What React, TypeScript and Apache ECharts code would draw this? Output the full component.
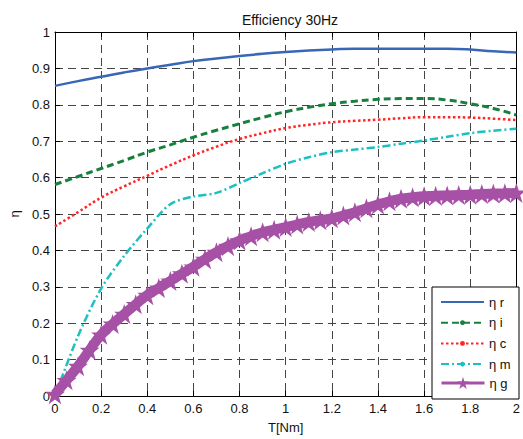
import React, { useEffect, useRef } from "react";
import * as echarts from "echarts";

// Torque values (x) for the four thin curves
const T = [0, 0.1, 0.2, 0.3, 0.4, 0.5, 0.6, 0.7, 0.8, 0.9, 1.0, 1.1, 1.2, 1.3, 1.4, 1.5, 1.6, 1.7, 1.8, 1.9, 2.0];
const etaR = [0.852, 0.865, 0.877, 0.889, 0.9, 0.91, 0.92, 0.927, 0.934, 0.94, 0.945, 0.949, 0.952, 0.954, 0.954, 0.954, 0.954, 0.954, 0.952, 0.947, 0.944];
const etaI = [0.581, 0.603, 0.625, 0.647, 0.67, 0.69, 0.711, 0.73, 0.748, 0.765, 0.781, 0.793, 0.803, 0.81, 0.815, 0.817, 0.817, 0.813, 0.803, 0.79, 0.772];
const etaC = [0.466, 0.505, 0.545, 0.576, 0.605, 0.634, 0.661, 0.685, 0.706, 0.722, 0.736, 0.745, 0.752, 0.756, 0.759, 0.763, 0.766, 0.766, 0.765, 0.762, 0.758];
const etaM = [0, 0.165, 0.295, 0.385, 0.46, 0.527, 0.548, 0.558, 0.585, 0.612, 0.638, 0.656, 0.67, 0.677, 0.684, 0.693, 0.702, 0.712, 0.722, 0.729, 0.734];

// Torque values (x) for the dense star curve
const Tg = [0, 0.05, 0.1, 0.15, 0.2, 0.25, 0.3, 0.35, 0.4, 0.45, 0.5, 0.55, 0.6, 0.65, 0.7, 0.75, 0.8, 0.85, 0.9, 0.95, 1.0, 1.05, 1.1, 1.15, 1.2, 1.25, 1.3, 1.35, 1.4, 1.45, 1.5, 1.55, 1.6, 1.65, 1.7, 1.75, 1.8, 1.85, 1.9, 1.95, 2.0];
const etaG = [0.005, 0.043, 0.082, 0.126, 0.168, 0.198, 0.225, 0.252, 0.277, 0.297, 0.316, 0.336, 0.355, 0.376, 0.395, 0.412, 0.427, 0.439, 0.45, 0.457, 0.464, 0.471, 0.478, 0.483, 0.488, 0.496, 0.505, 0.516, 0.526, 0.535, 0.542, 0.546, 0.549, 0.55, 0.551, 0.552, 0.553, 0.555, 0.556, 0.557, 0.558];

const seriesNames = ["η r", "η i", "η c", "η m", "η g"];
const TITLE = "Efficiency 30Hz";
const X_NAME = "T[Nm]";
const Y_NAME = "η";

const FONT = "Liberation Sans, Arial, sans-serif";
const STAR = "path://M50,0 L61.8,35.5 L99,35.5 L68.9,57.4 L80.4,93 L50,71 L19.6,93 L31.1,57.4 L1,35.5 L38.2,35.5 Z";

const pairs = (xs: number[], ys: number[]) => xs.map((x, i) => [x, ys[i]]);

export default function App() {
  const ref = useRef<HTMLDivElement>(null);
  useEffect(() => {
    if (!ref.current) return;
    const chart = echarts.init(ref.current, null, { renderer: "svg" });
    const gridLine = { show: true, lineStyle: { color: "#444", type: [8, 5] as any, width: 1 } };
    const axisLine = { show: true, onZero: false, lineStyle: { color: "#000", width: 1 } };
    const tick = { show: true, inside: true, length: 5, lineStyle: { color: "#000" } };
    const legendText = { fontSize: 13, lineHeight: 14, color: "#111", fontFamily: FONT };
    chart.setOption({
      animation: false,
      backgroundColor: "#fff",
      textStyle: { fontFamily: FONT },
      title: {
        text: TITLE,
        left: 285,
        top: 8,
        textAlign: "center",
        textStyle: { fontSize: 14, fontWeight: "normal", color: "#111", fontFamily: FONT },
      },
      grid: { left: 52, right: 4, top: 32, bottom: 39, containLabel: false },
      xAxis: [
        {
          type: "value",
          min: 0,
          max: 2,
          interval: 0.2,
          position: "bottom",
          name: X_NAME,
          nameLocation: "middle",
          nameGap: 25,
          nameTextStyle: { fontSize: 13, color: "#111", fontFamily: FONT },
          axisLine,
          axisTick: tick,
          axisLabel: { fontSize: 13, color: "#111", margin: 6, fontFamily: FONT },
          splitLine: gridLine,
        },
        {
          type: "value",
          min: 0,
          max: 2,
          interval: 0.2,
          position: "top",
          axisLine,
          axisTick: tick,
          axisLabel: { show: false },
          splitLine: { show: false },
        },
      ],
      yAxis: [
        {
          type: "value",
          min: 0,
          max: 1,
          interval: 0.1,
          position: "left",
          name: Y_NAME,
          nameLocation: "middle",
          nameGap: 33,
          nameTextStyle: { fontSize: 13, color: "#111", fontFamily: FONT },
          axisLine,
          axisTick: tick,
          axisLabel: { fontSize: 13, color: "#111", margin: 5, fontFamily: FONT },
          splitLine: gridLine,
        },
        {
          type: "value",
          min: 0,
          max: 1,
          interval: 0.1,
          position: "right",
          axisLine,
          axisTick: tick,
          axisLabel: { show: false },
          splitLine: { show: false },
        },
      ],
      legend: [
        {
          orient: "vertical",
          left: 440,
          top: 295,
          itemWidth: 43,
          itemHeight: 6,
          itemGap: 6.7,
          padding: 0,
          selectedMode: false,
          textStyle: legendText,
          data: [
            { name: seriesNames[0], itemStyle: { opacity: 0 } },
            { name: seriesNames[1] },
            { name: seriesNames[2] },
            { name: seriesNames[3] },
          ],
          z: 6,
        },
        {
          orient: "vertical",
          left: 440,
          top: 376,
          itemWidth: 43,
          itemHeight: 15,
          padding: 0,
          selectedMode: false,
          textStyle: legendText,
          lineStyle: { width: 3 },
          data: [{ name: seriesNames[4] }],
          z: 6,
        },
      ],
      graphic: [
        {
          type: "rect",
          z: 5,
          shape: { x: 432, y: 287, width: 87, height: 112 },
          style: { fill: "#fff", stroke: "#000", lineWidth: 1 },
        },
      ],
      series: [
        {
          name: seriesNames[0],
          type: "line",
          data: pairs(T, etaR),
          symbol: "none",
          smooth: true,
          lineStyle: { color: "#3a67b5", width: 2.5 },
          itemStyle: { color: "#3a67b5" },
        },
        {
          name: seriesNames[1],
          type: "line",
          data: pairs(T, etaI),
          symbol: "circle",
          symbolSize: 5,
          showSymbol: false,
          smooth: true,
          lineStyle: { color: "#17803d", width: 3, type: [7, 4] },
          itemStyle: { color: "#17803d" },
        },
        {
          name: seriesNames[2],
          type: "line",
          data: pairs(T, etaC),
          symbol: "circle",
          symbolSize: 5,
          showSymbol: false,
          smooth: true,
          lineStyle: { color: "#ff2626", width: 2.5, type: [2.5, 2.5] },
          itemStyle: { color: "#ff2626" },
        },
        {
          name: seriesNames[3],
          type: "line",
          data: pairs(T, etaM),
          symbol: "circle",
          symbolSize: 5,
          showSymbol: false,
          smooth: 0.3,
          lineStyle: { color: "#1cc0c0", width: 2.5, type: [8, 3, 2, 3] },
          itemStyle: { color: "#1cc0c0" },
        },
        {
          name: seriesNames[4],
          type: "line",
          data: pairs(Tg, etaG),
          symbol: STAR,
          symbolSize: 20,
          showSymbol: true,
          showAllSymbol: true,
          smooth: true,
          clip: false,
          lineStyle: { color: "#a650a6", width: 10 },
          itemStyle: { color: "#a650a6" },
        },
      ],
    });
    return () => chart.dispose();
  }, []);
  return (
    <div
      ref={ref}
      style={{ position: "fixed", left: 0, top: 0, width: 523, height: 439, background: "#fff" }}
    />
  );
}
